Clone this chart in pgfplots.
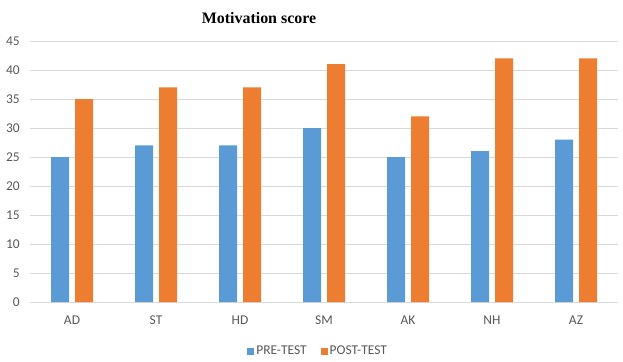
\documentclass[border=0pt]{standalone}
\usepackage{pgfplots}
\pgfplotsset{compat=1.18}
\usepackage{fontspec}
\setmainfont{Carlito}
\newfontfamily\titlefont{Liberation Serif}
\definecolor{preblue}{HTML}{5B9BD5}
\definecolor{postorange}{HTML}{ED7D31}
\definecolor{gridgray}{HTML}{D9D9D9}
\definecolor{textgray}{HTML}{595959}
\pgfplotsset{sqleg/.style={legend image code/.code={\fill[##1] (0bp,-3.5bp) rectangle (7bp,3.5bp);}}}
\begin{document}
\begin{tikzpicture}[x=1bp,y=1bp]
\useasboundingbox (0,0) rectangle (623,361);
\begin{axis}[at={(30bp,59bp)}, anchor=south west, scale only axis,
  width=588bp, height=261bp,
  xmin=-0.5, xmax=6.5, ymin=0, ymax=45,
  ytick={0,5,...,45}, xtick={0,...,6},
  xticklabels={AD,ST,HD,SM,AK,NH,AZ},
  axis line style={draw=none},
  major tick style={draw=none},
  ymajorgrids, grid style={gridgray, line width=0.8bp},
  /pgf/number format/assume math mode=true,
  tick label style={font=\fontsize{13.5}{15}\selectfont, text=textgray},
  yticklabel style={inner sep=0pt, xshift=-10bp},
  xticklabel style={inner sep=0pt, yshift=-14bp},
  legend style={at={(0.49,-0.188)}, anchor=center, legend columns=2, draw=none,
    font=\fontsize{13.5}{15}\selectfont, text=textgray, inner sep=0pt,
    /tikz/every even column/.append style={column sep=12bp}},
  ]
\addplot[ybar, bar width=18bp, bar shift=-12bp, fill=preblue, draw=none, sqleg]
  coordinates {(0,25) (1,27) (2,27) (3,30) (4,25) (5,26) (6,28)};
\addlegendentry{PRE-TEST}
\addplot[ybar, bar width=18bp, bar shift=12bp, fill=postorange, draw=none, sqleg]
  coordinates {(0,35) (1,37) (2,37) (3,41) (4,32) (5,42) (6,42)};
\addlegendentry{POST-TEST}
\end{axis}
\node[font=\titlefont\bfseries\fontsize{16}{18}\selectfont] at (259,343) {Motivation score};
\end{tikzpicture}
\end{document}
